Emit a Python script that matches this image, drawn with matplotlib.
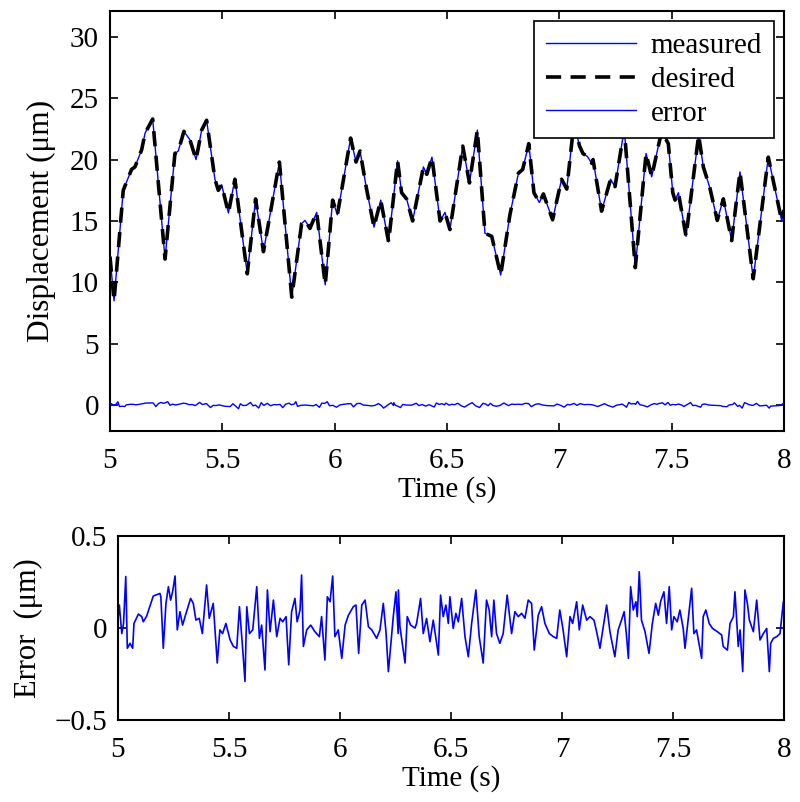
import numpy as np
import matplotlib
matplotlib.use("Agg")
import matplotlib.pyplot as plt

plt.rcParams['font.family'] = ['Liberation Serif', 'DejaVu Serif']

# displacement (um), read at turning points of the desired trajectory
t_disp = [5.0, 5.018, 5.059, 5.096, 5.111, 5.141, 5.156, 5.19, 5.245, 5.289,
          5.304, 5.329, 5.356, 5.383, 5.408, 5.43, 5.467, 5.482, 5.497, 5.527,
          5.556, 5.611, 5.648, 5.683, 5.754, 5.809, 5.853, 5.868, 5.89, 5.92,
          5.958, 5.991, 6.012, 6.071, 6.095, 6.113, 6.14, 6.175, 6.205, 6.24,
          6.28, 6.298, 6.32, 6.347, 6.395, 6.41, 6.433, 6.469, 6.491, 6.513,
          6.57, 6.6, 6.635, 6.669, 6.699, 6.739, 6.78, 6.818, 6.837, 6.864,
          6.887, 6.911, 6.929, 6.97, 7.01, 7.033, 7.065, 7.09, 7.105, 7.125,
          7.144, 7.15, 7.188, 7.228, 7.248, 7.289, 7.338, 7.386, 7.411, 7.455,
          7.485, 7.505, 7.515, 7.53, 7.564, 7.62, 7.641, 7.67, 7.703, 7.73,
          7.767, 7.804, 7.863, 7.93, 7.99, 8.0]
desired = [12.1, 8.5, 17.5, 19.2, 19.4, 20.8, 22.15, 23.3, 11.9, 20.5,
           20.7, 22.3, 21.6, 20.0, 22.4, 23.2, 18.4, 17.5, 17.95, 15.65,
           18.4, 10.7, 16.8, 12.5, 19.8, 8.8, 14.8, 15.05, 14.4, 15.7,
           9.8, 16.7, 15.5, 21.75, 19.8, 20.7, 17.8, 14.5, 16.7, 13.3,
           19.9, 17.3, 16.8, 15.0, 19.4, 18.8, 20.2, 15.0, 15.7, 14.3,
           21.1, 18.1, 22.4, 14.0, 13.75, 10.6, 15.5, 18.9, 19.2, 21.3,
           17.3, 16.5, 17.2, 15.1, 18.4, 17.6, 23.0, 21.1, 20.5, 20.25,
           19.7, 20.0, 15.8, 18.4, 17.8, 22.5, 11.2, 20.5, 18.6, 22.3,
           21.3, 17.3, 16.7, 17.3, 13.75, 22.0, 19.4, 17.7, 15.05, 16.8,
           13.4, 19.0, 10.3, 20.2, 15.0, 15.9]
measured = list(desired)

# tracking error (um)
t_err = [5.0, 5.006, 5.017, 5.025, 5.035, 5.042, 5.054, 5.066, 5.072, 5.092,
         5.107, 5.114, 5.129, 5.159, 5.189, 5.193, 5.204, 5.216, 5.227, 5.237,
         5.246, 5.257, 5.267, 5.279, 5.291, 5.302, 5.327, 5.339, 5.351, 5.366,
         5.38, 5.399, 5.411, 5.429, 5.447, 5.459, 5.471, 5.486, 5.505, 5.52,
         5.535, 5.547, 5.562, 5.572, 5.58, 5.592, 5.607, 5.625, 5.637, 5.647,
         5.662, 5.673, 5.685, 5.7, 5.715, 5.73, 5.742, 5.757, 5.769, 5.782,
         5.797, 5.807, 5.82, 5.827, 5.835, 5.85, 5.868, 5.887, 5.907, 5.917,
         5.932, 5.943, 5.955, 5.967, 5.977, 5.992, 6.008, 6.023, 6.038, 6.06,
         6.072, 6.084, 6.098, 6.113, 6.128, 6.143, 6.165, 6.18, 6.195, 6.207,
         6.218, 6.24, 6.252, 6.262, 6.263, 6.27, 6.293, 6.303, 6.318, 6.338,
         6.345, 6.363, 6.375, 6.39, 6.405, 6.42, 6.443, 6.453, 6.465, 6.477,
         6.488, 6.495, 6.51, 6.522, 6.533, 6.548, 6.563, 6.578, 6.593, 6.612,
         6.627, 6.645, 6.66, 6.672, 6.683, 6.693, 6.705, 6.72, 6.735, 6.753,
         6.773, 6.788, 6.803, 6.818, 6.833, 6.848, 6.863, 6.875, 6.893, 6.908,
         6.923, 6.943, 6.961, 6.976, 6.99, 7.005, 7.021, 7.036, 7.048, 7.066,
         7.078, 7.093, 7.111, 7.126, 7.144, 7.156, 7.171, 7.186, 7.201, 7.216,
         7.238, 7.253, 7.268, 7.28, 7.291, 7.299, 7.309, 7.321, 7.333, 7.339,
         7.348, 7.358, 7.374, 7.392, 7.407, 7.422, 7.434, 7.444, 7.459, 7.471,
         7.483, 7.494, 7.504, 7.519, 7.531, 7.546, 7.554, 7.569, 7.584, 7.594,
         7.606, 7.629, 7.636, 7.648, 7.663, 7.678, 7.7, 7.719, 7.726, 7.745,
         7.757, 7.772, 7.779, 7.794, 7.802, 7.814, 7.824, 7.835, 7.844, 7.862,
         7.877, 7.892, 7.907, 7.922, 7.934, 7.94, 7.952, 7.967, 7.982, 7.997,
         8.0]
error = [0.05, 0.125, -0.03, 0.025, 0.28, -0.11, -0.083, -0.11, 0.025, 0.076,
         0.062, 0.034, 0.065, 0.174, 0.188, 0.17, -0.11, 0.134, 0.225, 0.152,
         0.198, 0.283, -0.01, 0.089, 0.016, 0.062, 0.161, 0.134, 0.043, 0.053,
         -0.03, 0.234, 0.053, 0.134, -0.19, -0.01, -0.03, 0.025, -0.065, -0.1,
         -0.11, 0.116, -0.12, -0.29, 0.116, -0.03, -0.01, 0.225, -0.056, 0.016,
         -0.228, 0.207, -0.02, 0.152, -0.047, 0.053, 0.034, 0.062, -0.2, 0.089,
         0.161, 0.034, 0.098, 0.288, -0.1, -0.01, 0.016, -0.02, -0.047, 0.062,
         -0.174, 0.17, 0.143, 0.283, -0.047, -0.01, -0.165, 0.016, 0.07, 0.116,
         0.125, -0.138, 0.125, 0.152, 0.007, -0.01, -0.056, -0.01, 0.134, -0.02,
         -0.237, 0.062, 0.197, -0.03, 0.207, 0.007, -0.19, 0.062, 0.016, 0.0,
         0.025, 0.161, -0.03, 0.052, -0.074, 0.043, -0.147, 0.179, 0.062, 0.125,
         0.025, 0.17, -0.002, 0.08, 0.034, 0.161, -0.047, -0.156, 0.025, 0.207,
         -0.047, -0.19, 0.152, 0.098, -0.047, 0.152, -0.03, -0.083, -0.03, 0.179,
         -0.03, 0.089, 0.062, 0.08, 0.053, 0.152, 0.134, -0.12, 0.07, 0.116,
         0.025, -0.03, -0.047, -0.056, 0.098, -0.01, -0.156, 0.062, 0.025, 0.143,
         -0.01, 0.125, 0.043, 0.062, 0.043, -0.02, -0.11, 0.007, 0.125, -0.02,
         -0.156, -0.01, 0.043, 0.089, -0.047, -0.165, 0.225, 0.098, 0.143, 0.062,
         0.306, 0.043, -0.02, -0.138, 0.025, 0.134, 0.07, 0.143, 0.197, 0.025,
         0.225, -0.01, 0.062, 0.034, 0.098, -0.002, -0.11, 0.052, 0.216, -0.03,
         -0.01, -0.165, 0.062, 0.098, 0.025, -0.002, -0.02, -0.038, -0.1, -0.12,
         0.025, 0.062, 0.197, -0.1, -0.01, -0.237, 0.207, 0.134, 0.043, -0.02,
         0.152, -0.065, -0.03, -0.002, -0.237, -0.083, -0.056, -0.047, -0.03, 0.143,
         0.06]

xticks = [5, 5.5, 6, 6.5, 7, 7.5, 8]
xtick_labels = ['5', '5.5', '6', '6.5', '7', '7.5', '8']
disp_yticks = [0, 5, 10, 15, 20, 25, 30]
err_yticks = [-0.5, 0, 0.5]
err_ytick_labels = ['\u22120.5', '0', '0.5']

fs = 21
blue = '#0000ff'

fig = plt.figure(figsize=(8, 8.02), dpi=100)
ax1 = fig.add_axes([0.1375, 0.4626, 0.8425, 0.5237])
ax2 = fig.add_axes([0.1475, 0.1022, 0.8325, 0.2294])

ax1.plot(t_disp, measured, color=blue, lw=1.0, label='measured', zorder=2)
ax1.plot(t_disp, desired, color='black', lw=2.6, dashes=(4.2, 2.6),
         label='desired', zorder=3)
ax1.plot(t_err, error, color=blue, lw=1.0, label='error', zorder=4)
ax1.set_xlim(5, 8)
ax1.set_ylim(-2.1, 32.1)
ax1.set_yticks(disp_yticks)
ax1.set_xlabel('Time (s)', fontsize=fs, labelpad=2)
ax1.set_ylabel('Displacement (\u03bcm)', fontsize=22.5)
ax1.yaxis.set_label_coords(-0.08, 0.5)
leg = ax1.legend(loc='upper right', fontsize=fs, frameon=True, fancybox=False,
                 edgecolor='black', framealpha=1, handlelength=3.1,
                 handletextpad=0.5, labelspacing=0.25, borderpad=0.4,
                 borderaxespad=0.35)
leg.get_frame().set_linewidth(1.2)

ax2.plot(t_err, error, color=blue, lw=1.2)
ax2.set_xlim(5, 8)
ax2.set_ylim(-0.5, 0.5)
ax2.set_yticks(err_yticks)
ax2.set_yticklabels(err_ytick_labels)
ax2.set_xlabel('Time (s)', fontsize=fs, labelpad=2)
ax2.set_ylabel('Error  (\u03bcm)', fontsize=22)
ax2.yaxis.set_label_coords(-0.113, 0.5)

for ax in (ax1, ax2):
    ax.set_xticks(xticks)
    ax.set_xticklabels(xtick_labels)
    ax.tick_params(direction='in', length=6, width=1.2, top=True, right=True,
                   labelsize=fs)
    ax.tick_params(axis='x', pad=12)
    ax.tick_params(axis='y', pad=8)
    for s in ax.spines.values():
        s.set_linewidth(1.5)

fig.savefig('out.png', dpi=100)
